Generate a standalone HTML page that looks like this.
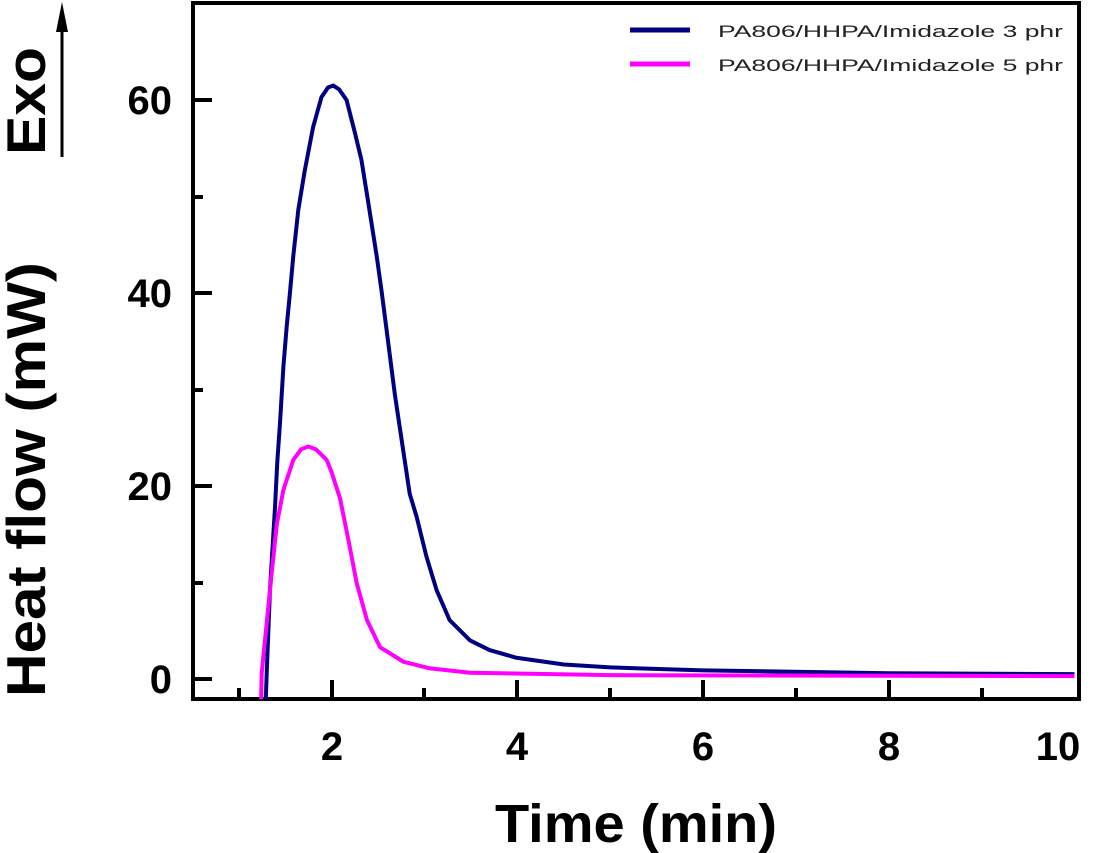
<!DOCTYPE html>
<html><head><meta charset="utf-8"><style>body{margin:0;background:#fff}svg{display:block}</style></head>
<body>
<svg width="1102" height="853" viewBox="0 0 1102 853" xmlns="http://www.w3.org/2000/svg" font-family="Liberation Sans, sans-serif" font-weight="bold">
<rect x="193" y="3" width="886" height="696" fill="none" stroke="#000" stroke-width="4"/>
<g stroke="#000" stroke-width="4">
<line x1="332" y1="699" x2="332" y2="680"/><line x1="517" y1="699" x2="517" y2="680"/><line x1="703" y1="699" x2="703" y2="680"/><line x1="889" y1="699" x2="889" y2="680"/>
<line x1="239" y1="699" x2="239" y2="688"/><line x1="424" y1="699" x2="424" y2="688"/><line x1="610" y1="699" x2="610" y2="688"/><line x1="796" y1="699" x2="796" y2="688"/><line x1="982" y1="699" x2="982" y2="688"/>
<line x1="193" y1="679" x2="212" y2="679"/><line x1="193" y1="486" x2="212" y2="486"/><line x1="193" y1="293" x2="212" y2="293"/><line x1="193" y1="100" x2="212" y2="100"/>
<line x1="193" y1="583" x2="203" y2="583"/><line x1="193" y1="390" x2="203" y2="390"/><line x1="193" y1="197" x2="203" y2="197"/>
</g>
<g font-size="40" text-anchor="middle">
<text x="332" y="760">2</text><text x="517" y="760">4</text><text x="703" y="760">6</text><text x="889" y="760">8</text><text x="1058" y="760">10</text>
</g>
<g font-size="40" text-anchor="end">
<text x="172" y="693">0</text><text x="172" y="500">20</text><text x="172" y="307">40</text><text x="172" y="114">60</text>
</g>
<text x="495" y="842" font-size="54" textLength="282" lengthAdjust="spacingAndGlyphs">Time (min)</text>
<text transform="translate(45,697) rotate(-90)" font-size="55" textLength="435" lengthAdjust="spacingAndGlyphs">Heat flow (mW)</text>
<text transform="translate(45,155) rotate(-90)" font-size="55" textLength="108" lengthAdjust="spacingAndGlyphs">Exo</text>
<line x1="62" y1="157" x2="62" y2="20" stroke="#000" stroke-width="3"/>
<polygon points="62,2 56,32 68,32" fill="#000"/>
<line x1="630" y1="30" x2="690" y2="30" stroke="#000080" stroke-width="5"/>
<line x1="630" y1="64" x2="690" y2="64" stroke="#ff00ff" stroke-width="5"/>
<g font-size="17" font-weight="normal" fill="#222">
<text x="718" y="37" textLength="345" lengthAdjust="spacingAndGlyphs">PA806/HHPA/Imidazole 3 phr</text>
<text x="718" y="71" textLength="345" lengthAdjust="spacingAndGlyphs">PA806/HHPA/Imidazole 5 phr</text>
</g>
<g transform="translate(146,679) scale(92.85,-9.65)" fill="none" stroke-width="4" stroke-linejoin="round">
<polyline vector-effect="non-scaling-stroke" stroke="#000080" points="1.29,-2.1 1.30,0.6 1.335,9.2 1.39,17.9 1.414,22.5 1.443,26.5 1.48,32.4 1.515,36.5 1.55,40 1.586,43.8 1.64,48.6 1.71,52.7 1.80,57.2 1.89,60.3 1.96,61.3 2.017,61.5 2.08,61.1 2.16,60 2.25,56.6 2.32,53.8 2.39,49.6 2.485,43.8 2.54,40 2.60,35.5 2.68,29.5 2.77,23.7 2.84,19.2 2.915,16.8 3.02,12.7 3.13,9.2 3.27,6.1 3.49,4.0 3.70,3.0 3.99,2.2 4.5,1.5 5,1.2 6,0.9 8,0.6 10,0.5"/>
<polyline vector-effect="non-scaling-stroke" stroke="#ff00ff" points="1.24,-2.1 1.246,0.6 1.30,5.8 1.354,11 1.41,16.1 1.48,19.6 1.586,22.7 1.67,23.8 1.748,24.1 1.83,23.8 1.946,22.7 2.0,21.4 2.09,18.7 2.18,14.4 2.27,9.9 2.38,6.1 2.52,3.3 2.77,1.8 3.06,1.1 3.49,0.65 5,0.4 10,0.3"/>
</g>
</svg>
</body></html>
